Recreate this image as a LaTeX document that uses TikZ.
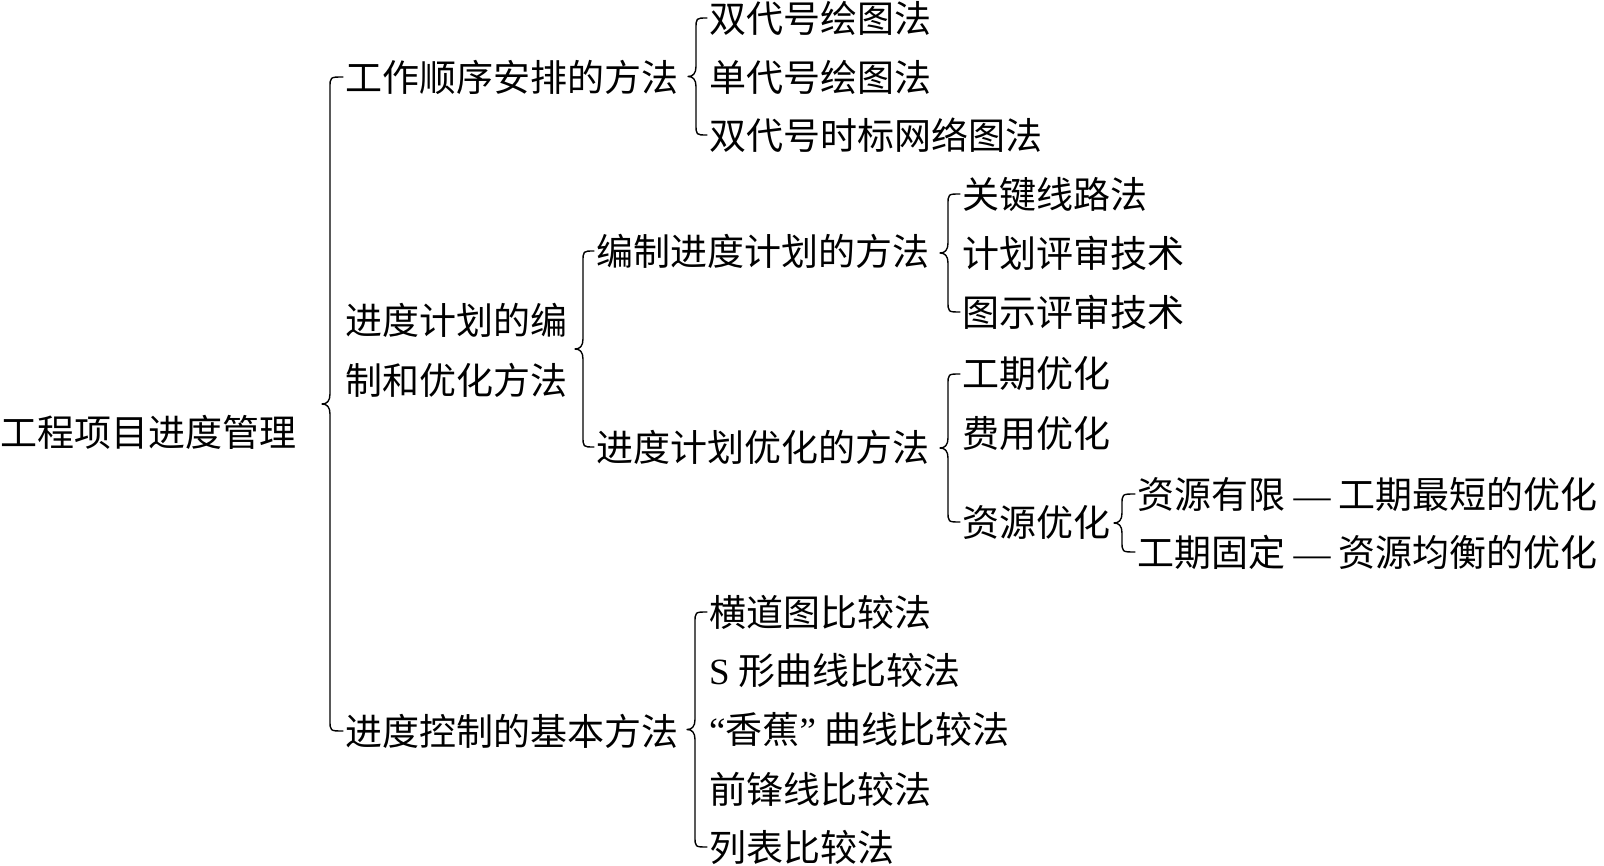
\documentclass[tikz,border=0pt]{standalone}
\usepackage{fontspec}
\newfontfamily\cjk{Noto Sans CJK SC}
\newfontfamily\lat{Liberation Serif}
\usetikzlibrary{calc}
\tikzset{
  txt/.style={anchor=west, inner sep=0pt, align=left, font=\cjk\fontsize{37}{60}\selectfont},
  bracestyle/.style={draw=black, line width=1.4pt, line cap=round, line join=round}
}
% brace spanning children #3 (first) .. #4 (last), opened by parent #2
\newcommand\cbrace[4][14]{%
  \path[bracestyle] let \p1=(#3.west), \p2=(#4.west), \n1={\x1-#1pt}, \n2={0.5*(\y1+\y2)} in
   (\x1-2pt,\y1) .. controls (\n1,\y1) .. (\n1,\y1-11pt)
   -- (\n1,\n2+10pt) .. controls (\n1,\n2+3pt) and (\n1-3pt,\n2) .. (\n1-8pt,\n2)
   .. controls (\n1-3pt,\n2) and (\n1,\n2-3pt) .. (\n1,\n2-10pt)
   -- (\n1,\y2+11pt) .. controls (\n1,\y2) .. (\x2-2pt,\y2);
}
\begin{document}
\begin{tikzpicture}[x=1pt,y=-1pt]
\useasboundingbox (0,0) rectangle (1604,866);
% root
\node[txt] (root) at (0,432) {工程项目进度管理};
% level 1
\node[txt] (A) at (345,77) {工作顺序安排的方法};
\node[txt] (B) at (345,350) {进度计划的编\\制和优化方法};
\node[txt] (C) at (345,731) {进度控制的基本方法};
% A children
\node[txt] (A1) at (709,18) {双代号绘图法};
\node[txt] (A2) at (709,77) {单代号绘图法};
\node[txt] (A3) at (709,135) {双代号时标网络图法};
% B children
\node[txt] (B1) at (596,251) {编制进度计划的方法};
\node[txt] (B2) at (596,447) {进度计划优化的方法};
\node[txt] (B11) at (962,194) {关键线路法};
\node[txt] (B12) at (962,253) {计划评审技术};
\node[txt] (B13) at (962,312) {图示评审技术};
\node[txt] (B21) at (962,374) {工期优化};
\node[txt] (B22) at (962,434) {费用优化};
\node[txt] (B23) at (962,522) {资源优化};
\node[txt] (B231) at (1137,494) {资源有限 {\lat —} 工期最短的优化};
\node[txt] (B232) at (1137,552) {工期固定 {\lat —} 资源均衡的优化};
% C children
\node[txt] (C1) at (709,612) {横道图比较法};
\node[txt] (C2) at (709,670) {{\lat S} 形曲线比较法};
\node[txt] (C3) at (709,729) {{\lat “}香蕉{\lat ”} 曲线比较法};
\node[txt] (C4) at (709,789) {前锋线比较法};
\node[txt] (C5) at (709,847) {列表比较法};
% braces
\cbrace[15]{root}{A}{C}
\cbrace[13]{A}{A1}{A3}
\cbrace[13]{B}{B1}{B2}
\cbrace[14]{B1}{B11}{B13}
\cbrace[14]{B2}{B21}{B23}
\cbrace[15]{B23}{B231}{B232}
\cbrace[14]{C}{C1}{C5}
\end{tikzpicture}
\end{document}
